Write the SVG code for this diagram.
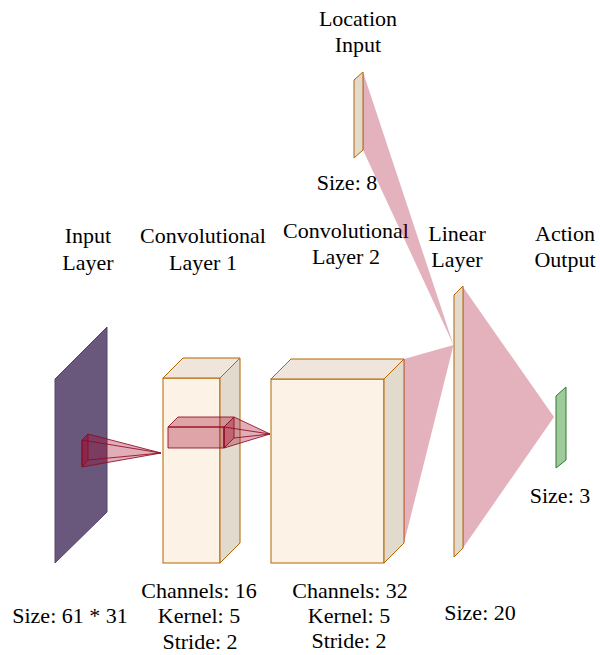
<svg xmlns="http://www.w3.org/2000/svg" width="600" height="655" viewBox="0 0 600 655">
<style>
text{font-family:"Liberation Serif","Times New Roman",serif;font-size:22px;fill:#000;text-anchor:middle}
.front{fill:#fdf2e6;stroke:#b46504;stroke-width:1}
.top{fill:#efe5da;stroke:#b46504;stroke-width:1;stroke-linejoin:round}
.side{fill:#e2dacd;stroke:#b46504;stroke-width:1;stroke-linejoin:round}
.fan{fill:#a20025;fill-opacity:0.3;stroke:none}
.red{fill:#a20025;fill-opacity:0.32;stroke:#8e0a22;stroke-opacity:0.85;stroke-width:1;stroke-linejoin:round}
.redline{stroke:#8e0a22;stroke-opacity:0.85;stroke-width:1;fill:none}
</style>
<rect width="600" height="655" fill="#ffffff"/>

<g id="input-layer">
<polygon points="55,379 107,327 107,512 55,563" fill="#6a577c" stroke="#56446a" stroke-width="1"/>
<text x="88" y="243">Input</text>
<text x="88" y="270">Layer</text>
<text x="70" y="623">Size: 61 * 31</text>
</g>

<g id="conv-layer-1">
<rect class="front" x="163" y="378" width="57" height="185"/>
<polygon class="top" points="163,378 183,358 240,358 220,378"/>
<polygon class="side" points="220,378 240,358 240,543 220,563"/>
<text x="203" y="243">Convolutional</text>
<text x="203" y="270">Layer 1</text>
<text x="199" y="598">Channels: 16</text>
<text x="199" y="623">Kernel: 5</text>
<text x="200" y="649">Stride: 2</text>
</g>

<g id="conv-layer-2">
<rect class="front" x="271" y="379" width="113" height="184"/>
<polygon class="top" points="271,379 291,359 404,359 384,379"/>
<polygon class="side" points="384,379 404,359 404,543 384,563"/>
<text x="346" y="238">Convolutional</text>
<text x="346" y="264">Layer 2</text>
<text x="350" y="598">Channels: 32</text>
<text x="349" y="623">Kernel: 5</text>
<text x="349" y="648">Stride: 2</text>
</g>

<g id="location-input">
<polygon class="side" points="354,80 363,72 363,150 354,158"/>
<text x="358" y="26">Location</text>
<text x="358" y="52">Input</text>
<text x="347" y="190">Size: 8</text>
</g>

<g id="linear-layer">
<polygon class="side" points="454,295 463,286 463,548 454,557"/>
<text x="457" y="241">Linear</text>
<text x="457" y="267">Layer</text>
<text x="480" y="620">Size: 20</text>
</g>

<g id="action-output">
<polygon points="556,396 566,387 566,460 556,468" fill="#9dcb9a" stroke="#2f7a2f" stroke-width="1" stroke-linejoin="round"/>
<text x="565" y="241">Action</text>
<text x="565" y="267">Output</text>
<text x="560" y="503">Size: 3</text>
</g>

<g id="connectors">
<polygon class="fan" points="363,72 453.5,345 363,150"/>
<polygon class="fan" points="404,359 453.5,345 404,543"/>
<polygon class="fan" points="463,287 554,417 463,548"/>

<polygon class="red" points="82,440 88,434 88,460 82,467"/>
<polygon class="red" points="82,440 88,434 161,453 82,467"/>
<line class="redline" x1="82" y1="440" x2="161" y2="453"/>
<line class="redline" x1="88" y1="460" x2="161" y2="453"/>

<rect class="red" x="168" y="427" width="56" height="21"/>
<polygon class="red" points="168,427 178,417 234,417 224,427"/>
<polygon class="red" points="224,427 234,417 234,438 224,448"/>
<polygon class="red" points="224,427 234,417 270,434 224,448"/>
<line class="redline" x1="224" y1="427" x2="270" y2="434"/>
<line class="redline" x1="234" y1="438" x2="270" y2="434"/>
</g>
</svg>
